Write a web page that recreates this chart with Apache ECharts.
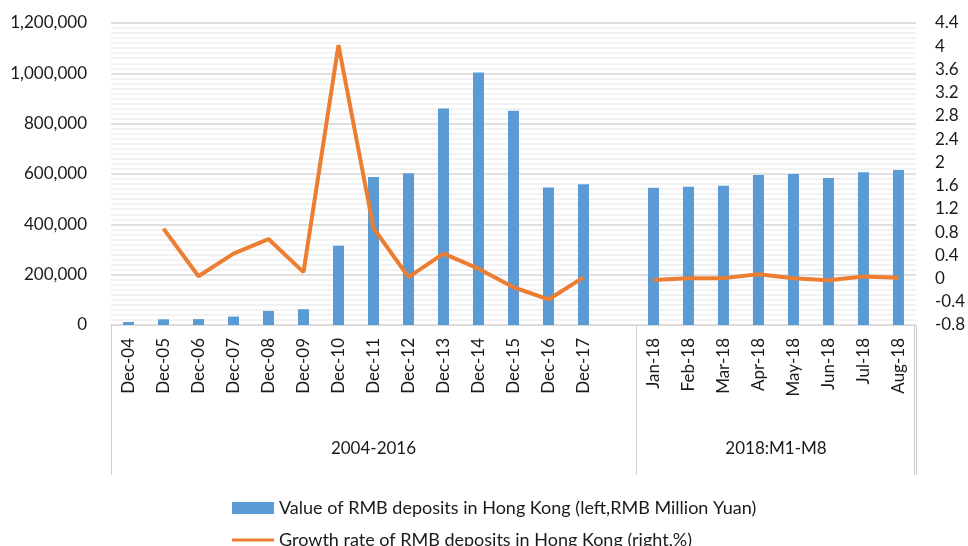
<!DOCTYPE html>
<html lang="en">
<head>
    <meta charset="UTF-8">
    <title>RMB deposits in Hong Kong</title>
    <style>
        html, body { margin: 0; padding: 0; background: #fff; }
        #chart-box { width: 968px; height: 546px; }
    </style>
</head>
<body>
<div id="chart-box"></div>
<script src="https://cdn.jsdelivr.net/npm/echarts@6/dist/echarts.min.js"></script>
<script>
    // categories (one empty slot between the two groups)
    var categories = ['Dec-04','Dec-05','Dec-06','Dec-07','Dec-08','Dec-09','Dec-10','Dec-11',
        'Dec-12','Dec-13','Dec-14','Dec-15','Dec-16','Dec-17','',
        'Jan-18','Feb-18','Mar-18','Apr-18','May-18','Jun-18','Jul-18','Aug-18'];

    // value of deposits, RMB million yuan
    var depositValue = [12127, 22586, 23403, 33400, 56060, 62718, 314938, 588529,
        603016, 860472, 1003557, 851106, 546707, 559136, null,
        545000, 549000, 553000, 596000, 600000, 584000, 607000, 616000];

    // growth rate
    var growthRate = [null, 0.86, 0.04, 0.43, 0.68, 0.11, 4.02, 0.87,
        0.025, 0.43, 0.17, -0.15, -0.36, 0.02, null,
        -0.025, 0.005, 0.007, 0.075, 0.005, -0.03, 0.035, 0.012];

    // group labels on the second level of the axis and their centre (in slots)
    var groupLabels = ['2004-2016', '2018:M1-M8'];
    var groupCentres = [7.5, 19];
    var groupSplit = 15;   // slot where the second group starts

    var seriesNames = ['Value of RMB deposits in Hong Kong (left,RMB Million Yuan)',
        'Growth rate of RMB deposits in Hong Kong (right,%)'];

    var font = 'Lato, "Open Sans", sans-serif';
    var boxColor = '#d0d0d0';
    var boxDepth = 150;
    var myChart = echarts.init(document.getElementById('chart-box'));

    var option = {
        animation: false,
        textStyle: { fontFamily: font },
        grid: { left: 111, right: 51, top: 23, bottom: 221 },
        legend: {
            orient: 'vertical',
            left: 232,
            top: 499,
            height: 70,
            padding: 0,
            itemGap: 14,
            itemWidth: 42,
            itemHeight: 12,
            textStyle: { fontSize: 18, color: '#1a1a1a', fontFamily: font },
            data: [
                { name: seriesNames[0], icon: 'rect' },
                // thin line icon, bounding points keep it centred
                { name: seriesNames[1], icon: 'path://M0,0L0,0M0,12L0,12M0,4.4H42V7.6H0Z' }
            ]
        },
        xAxis: [{
            type: 'category',
            data: categories,
            axisLine: { lineStyle: { color: '#d9d9d9', width: 1 } },
            axisTick: { show: false },
            axisLabel: {
                rotate: 90,
                interval: 0,
                fontSize: 17,
                color: '#1a1a1a',
                margin: 13
            }
        }, {
            // second level: group names
            type: 'value',
            position: 'bottom',
            min: 0,
            max: categories.length,
            interval: 0.5,
            axisLine: { show: false },
            axisTick: { show: false },
            splitLine: { show: false },
            axisLabel: {
                margin: 115,
                fontSize: 17,
                color: '#1a1a1a',
                formatter: function (v) {
                    for (var k = 0; k < groupCentres.length; k++) {
                        if (Math.abs(v - groupCentres[k]) < 0.01) return groupLabels[k];
                    }
                    return '';
                }
            }
        }, {
            // borders of the category box: start and group split
            type: 'value',
            position: 'bottom',
            min: 0,
            max: categories.length,
            interval: groupSplit,
            axisLine: { show: false },
            splitLine: { show: false },
            axisLabel: { show: false },
            axisTick: { show: true, length: boxDepth, lineStyle: { color: boxColor } }
        }],
        yAxis: [{
            type: 'value',
            min: 0,
            max: 1200000,
            interval: 200000,
            axisLine: { show: false },
            axisTick: { show: false },
            axisLabel: {
                fontSize: 17,
                color: '#1a1a1a',
                margin: 24,
                formatter: function (v) { return v.toLocaleString('en-US'); }
            },
            splitLine: { lineStyle: { color: '#d6d6d6', width: 1.5 } },
            minorTick: { show: false, splitNumber: 10 },
            minorSplitLine: { show: true, lineStyle: { color: '#eeeeee', width: 1.5 } }
        }, {
            type: 'value',
            min: -0.8,
            max: 4.4,
            interval: 0.4,
            position: 'right',
            axisLine: { show: false },
            axisTick: { show: false },
            splitLine: { show: false },
            axisLabel: {
                fontSize: 17,
                color: '#1a1a1a',
                margin: 19,
                formatter: function (v) { return String(parseFloat(v.toFixed(1))); }
            }
        }],
        series: [{
            name: seriesNames[0],
            type: 'bar',
            data: depositValue,
            barWidth: 11,
            itemStyle: { color: '#5b9bd5' }
        }, {
            name: seriesNames[1],
            type: 'line',
            yAxisIndex: 1,
            data: growthRate,
            symbol: 'none',
            lineStyle: { color: '#ed7d31', width: 4 },
            itemStyle: { color: '#ed7d31' }
        }]
    };
    myChart.setOption(option);

    // right border of the category box, placed through the axis
    var endX = Math.floor(myChart.convertToPixel({ xAxisIndex: 2 }, categories.length)) - 0.5;
    var baseY = Math.round(myChart.convertToPixel({ yAxisIndex: 0 }, 0));
    myChart.setOption({
        graphic: {
            elements: [{
                type: 'line',
                z: 10,
                shape: { x1: endX, y1: baseY, x2: endX, y2: baseY + boxDepth },
                style: { stroke: boxColor, lineWidth: 1.2 },
                silent: true
            }]
        }
    });
</script>
</body>
</html>
